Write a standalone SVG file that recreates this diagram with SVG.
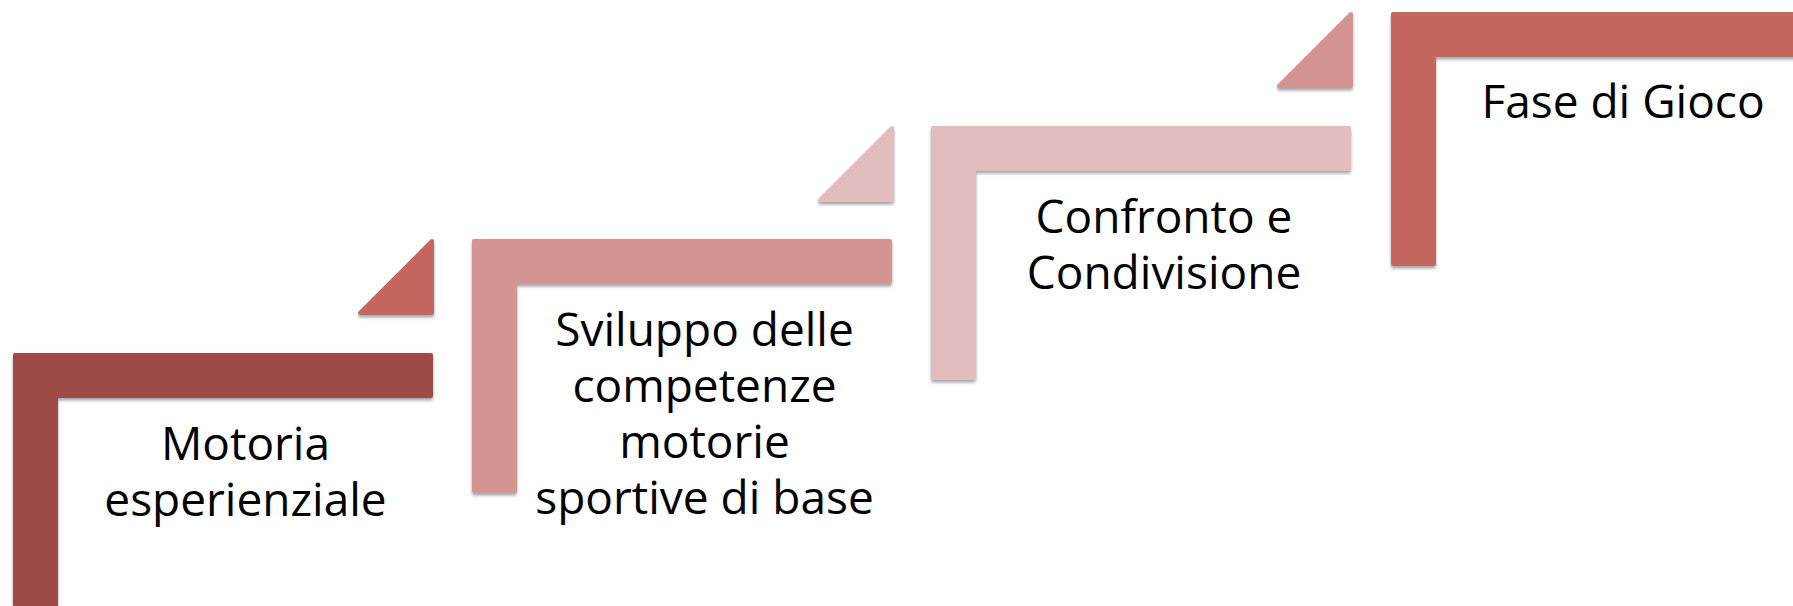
<svg xmlns="http://www.w3.org/2000/svg" width="1793" height="606" viewBox="0 0 1793 606">
  <defs>
    <filter id="sh" x="-5%" y="-5%" width="110%" height="115%">
      <feDropShadow dx="0" dy="2.5" stdDeviation="1.8" flood-color="#000" flood-opacity="0.35"/>
    </filter>
    <path id="corner" d="M2,2 H418 V43 H43 V252 H2 Z"/>
    <path id="tri" d="M74,2 V74 H2 Z"/>
  </defs>
  <style>
    .shape { filter: url(#sh); stroke-width: 4; stroke-linejoin: round; }
    .c1 { fill: #9D4B46; stroke: #9D4B46; }
    .c2 { fill: #C4675F; stroke: #C4675F; }
    .c3 { fill: #D49491; stroke: #D49491; }
    .c4 { fill: #E3BDBD; stroke: #E3BDBD; }
    .lbl { font-family: "Open Sans", "Noto Sans", sans-serif; font-size: 46px; fill: #000; text-anchor: middle; }
  </style>
  <rect width="1793" height="606" fill="#fff"/>
  <g id="connectors">
    <use href="#tri" x="358" y="239" class="shape c2"/>
    <use href="#tri" x="818" y="126" class="shape c4"/>
    <use href="#tri" x="1277" y="12" class="shape c3"/>
  </g>
  <g id="node1">
    <use href="#corner" x="13" y="353" class="shape c1"/>
    <text class="lbl" x="245.5" y="460">Motoria</text>
    <text class="lbl" x="245.5" y="516">esperienziale</text>
  </g>
  <g id="node2">
    <use href="#corner" x="472" y="239" class="shape c3"/>
    <text class="lbl" x="704.5" y="346">Sviluppo delle</text>
    <text class="lbl" x="704.5" y="402">competenze</text>
    <text class="lbl" x="704.5" y="458">motorie</text>
    <text class="lbl" x="704.5" y="514">sportive di base</text>
  </g>
  <g id="node3">
    <use href="#corner" x="931" y="126" class="shape c4"/>
    <text class="lbl" x="1164" y="233">Confronto e</text>
    <text class="lbl" x="1164" y="289">Condivisione</text>
  </g>
  <g id="node4">
    <use href="#corner" x="1391" y="12" class="shape c2"/>
    <text class="lbl" x="1623" y="118">Fase di Gioco</text>
  </g>
</svg>
